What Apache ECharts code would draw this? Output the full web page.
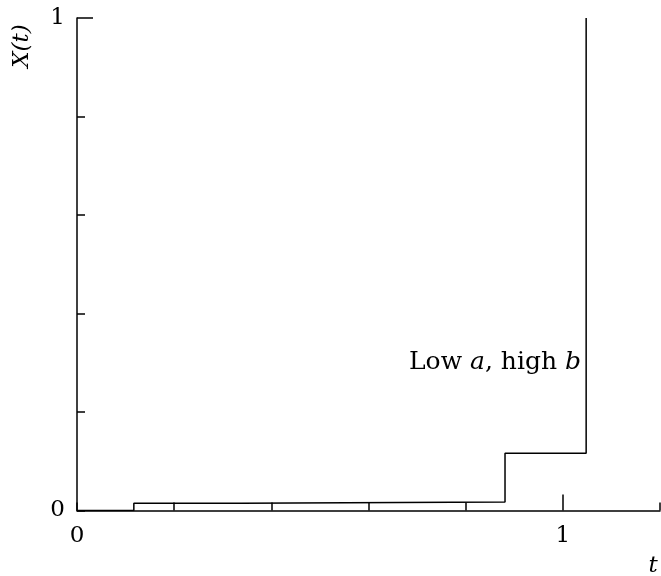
<!DOCTYPE html>
<html>
<head>
<meta charset="utf-8">
<script src="https://cdn.jsdelivr.net/npm/echarts@6/dist/echarts.min.js"></script>
<style>
html, body { margin: 0; padding: 0; background: #fff; }
#main { width: 661px; height: 576px; }
</style>
</head>
<body>
<div id="main"></div>
<script>
// step path X(t): value changes at each t
var stepT = [0, 0.117, 0.338, 0.881, 1.048];
var stepX = [0, 0.0146, 0.0173, 0.116, 1];
var xTickLabels = [0, 1];
var yTickLabels = [0, 1];
var bigTicksX = [1];
var bigTicksY = [1];

var serif = '"DejaVu Serif", "Liberation Serif", serif';

var chart = echarts.init(document.getElementById('main'));

function onlyLabels(list) {
    return function (v) {
        for (var i = 0; i < list.length; i++) {
            if (Math.abs(v - list[i]) < 1e-6) return String(list[i]);
        }
        return '';
    };
}

var data = [];
for (var i = 0; i < stepT.length; i++) {
    data.push([stepT[i], stepX[i]]);
}

option = {
    animation: false,
    grid: { left: 77, right: 1, top: 18, bottom: 65.5, containLabel: false, outerBoundsMode: 'none' },
    xAxis: [{
        type: 'value',
        min: 0,
        max: 1.2,
        interval: 0.2,
        splitLine: { show: false },
        axisLine: { lineStyle: { color: '#000', width: 1.5 } },
        axisTick: { inside: true, length: 8, lineStyle: { color: '#000', width: 1.5 } },
        axisLabel: {
            formatter: onlyLabels(xTickLabels),
            color: '#000', fontFamily: serif, fontSize: 23, margin: 14,
            showMaxLabel: true, showMinLabel: true
        }
    }, {
        type: 'value',
        min: 0,
        max: 1.2,
        position: 'bottom',
        splitLine: { show: false },
        axisLine: { show: false },
        axisTick: { inside: true, length: 16, customValues: bigTicksX, lineStyle: { color: '#000', width: 1.5 } },
        axisLabel: { show: false }
    }],
    yAxis: [{
        type: 'value',
        min: 0,
        max: 1,
        interval: 0.2,
        splitLine: { show: false },
        axisLine: { show: true, lineStyle: { color: '#000', width: 1.5 } },
        axisTick: { show: true, inside: true, length: 8, lineStyle: { color: '#000', width: 1.5 } },
        axisLabel: {
            formatter: onlyLabels(yTickLabels),
            color: '#000', fontFamily: serif, fontSize: 23, margin: 12
        }
    }, {
        type: 'value',
        min: 0,
        max: 1,
        position: 'left',
        splitLine: { show: false },
        axisLine: { show: false },
        axisTick: { show: true, inside: true, length: 16, customValues: bigTicksY, lineStyle: { color: '#000', width: 1.5 } },
        axisLabel: { show: false }
    }],
    graphic: [{
        type: 'text',
        left: 409,
        top: 350,
        style: {
            text: 'Low {i|a}, high {i|b}',
            fontFamily: serif,
            fontSize: 25,
            fill: '#000',
            rich: { i: { fontStyle: 'italic', fontFamily: serif, fontSize: 25 } }
        }
    }, {
        type: 'text',
        x: 22,
        y: 46,
        rotation: Math.PI / 2,
        style: {
            text: 'X({i|t})',
            fontFamily: serif,
            fontSize: 23,
            fontStyle: 'italic',
            fill: '#000',
            align: 'center',
            verticalAlign: 'middle',
            rich: { i: { fontStyle: 'italic', fontFamily: serif, fontSize: 23 } }
        }
    }, {
        type: 'text',
        x: 653,
        y: 566,
        style: {
            text: 't',
            fontFamily: serif,
            fontSize: 23,
            fontStyle: 'italic',
            fill: '#000',
            align: 'center',
            verticalAlign: 'middle'
        }
    }],
    series: [{
        type: 'line',
        step: 'end',
        data: data,
        xAxisIndex: 0,
        yAxisIndex: 0,
        showSymbol: false,
        lineStyle: { color: '#000', width: 1.5 }
    }]
};
chart.setOption(option);
</script>
</body>
</html>
